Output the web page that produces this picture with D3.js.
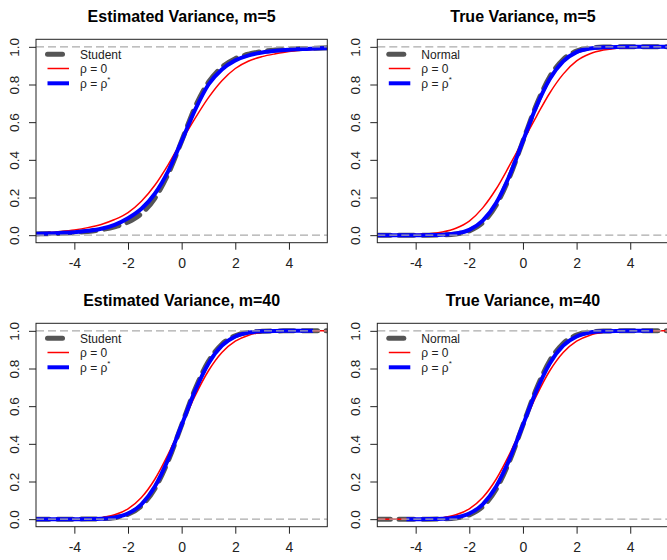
<!DOCTYPE html>
<html>
<head>
<meta charset="utf-8">
<script src="https://cdn.jsdelivr.net/npm/d3@7"></script>
<style>
  html, body { margin: 0; padding: 0; background: #fff; }
  svg { display: block; font-family: "Liberation Sans", Arial, Helvetica, sans-serif; }
</style>
</head>
<body>
<svg id="chart" width="667" height="560"></svg>
<script>
// ---------------- data ----------------
const xGrid = [-5.5,-5,-4.5,-4,-3.5,-3,-2.5,-2,-1.5,-1,-0.5,0,0.5,1,1.5,2,2.5,3,3.5,4,4.5,5,5.5];
const xTicks = [-4, -2, 0, 2, 4];
const yTicks = [0, 0.2, 0.4, 0.6, 0.8, 1.0];
const yTickLabels = ["0.0", "0.2", "0.4", "0.6", "0.8", "1.0"];
const titles = ["Estimated Variance, m=5", "True Variance, m=5", "Estimated Variance, m=40", "True Variance, m=40"];
const refNames = ["Student", "Normal", "Student", "Normal"];

// Panel 1: Estimated Variance, m=5
const refEst5     = [0.006,0.008,0.010,0.014,0.020,0.029,0.044,0.070,0.115,0.196,0.326,0.5,0.680,0.812,0.892,0.937,0.961,0.975,0.983,0.988,0.991,0.993,0.995];
const rho0Est5    = [0.011,0.014,0.020,0.028,0.040,0.057,0.083,0.120,0.180,0.265,0.375,0.5,0.620,0.730,0.820,0.885,0.925,0.948,0.963,0.975,0.982,0.987,0.990];
const rhoStarEst5 = [0.007,0.009,0.012,0.016,0.023,0.034,0.055,0.090,0.140,0.220,0.340,0.5,0.665,0.800,0.880,0.928,0.955,0.970,0.979,0.985,0.989,0.991,0.993];
// Panel 2: True Variance, m=5
const refTrue5     = [0,0,0,0,0.0002,0.0013,0.006,0.023,0.067,0.159,0.309,0.5,0.691,0.841,0.933,0.977,0.994,0.9987,0.9998,1,1,1,1];
const rho0True5    = [0,0,0.001,0.003,0.007,0.017,0.037,0.075,0.145,0.245,0.370,0.5,0.630,0.755,0.855,0.925,0.963,0.983,0.993,0.997,0.999,1,1];
const rhoStarTrue5 = [0,0,0,0,0.0004,0.002,0.009,0.028,0.077,0.171,0.317,0.5,0.683,0.829,0.923,0.972,0.991,0.998,0.9996,1,1,1,1];
// Panel 3: Estimated Variance, m=40
const refEst40     = [0,0,0,0.0001,0.0006,0.0024,0.008,0.026,0.071,0.162,0.310,0.5,0.690,0.838,0.929,0.974,0.992,0.9976,0.9994,0.9999,1,1,1];
const rho0Est40    = [0,0,0.0002,0.0007,0.0026,0.008,0.023,0.055,0.115,0.212,0.345,0.5,0.655,0.788,0.885,0.945,0.977,0.992,0.9974,0.9993,0.9998,1,1];
const rhoStarEst40 = [0,0,0,0,0.0005,0.0023,0.009,0.030,0.079,0.173,0.319,0.5,0.681,0.827,0.921,0.970,0.991,0.9977,0.9995,1,1,null,null];
// Panel 4: True Variance, m=40
const refTrue40     = [0,0,0,0,0.0002,0.0013,0.006,0.023,0.067,0.159,0.309,0.5,0.691,0.841,0.933,0.977,0.994,0.9987,0.9998,1,1,1,1];
const rho0True40    = [0,0,0.0002,0.0007,0.0026,0.008,0.023,0.055,0.115,0.212,0.345,0.5,0.655,0.788,0.885,0.945,0.977,0.992,0.9974,0.9993,0.9998,1,1];
const rhoStarTrue40 = [null,null,null,0,0.0005,0.0023,0.009,0.030,0.079,0.173,0.319,0.5,0.681,0.827,0.921,0.970,0.991,0.9977,0.9995,1,1,null,null];
// observed x-range of each rho* curve (empirical support)
const rhoStarSpan = [[-5.5, 5.5], [-5.5, 5.5], [-5.5, 4.9], [-4.35, 4.85]];

const panelRef = [refEst5, refTrue5, refEst40, refTrue40];
const panelRho0 = [rho0Est5, rho0True5, rho0Est40, rho0True40];
const panelRhoStar = [rhoStarEst5, rhoStarTrue5, rhoStarEst40, rhoStarTrue40];

// ---------------- layout ----------------
const svg = d3.select("#chart");
const origins = [[0, 0], [341.3, 0], [0, 284], [341.3, 284]];
const box = { left: 36, top: 39.3, width: 291.3, height: 203.4 };
const col = { ref: "#555555", rho0: "#ff0000", rhoStar: "#0000ff", guide: "#ababab" };
const refDash = "15,8.5";

function toPoints(arr) {
  const pts = [];
  xGrid.forEach((x, i) => { if (arr[i] != null) pts.push([x, arr[i]]); });
  return pts;
}

origins.forEach((o, p) => {
  const g = svg.append("g").attr("transform", `translate(${o[0]},${o[1]})`);
  const x = d3.scaleLinear().domain([-5.43, 5.43]).range([box.left, box.left + box.width]);
  const y = d3.scaleLinear().domain([-0.04, 1.04]).range([box.top + box.height, box.top]);

  const clipId = "clip" + p;
  g.append("clipPath").attr("id", clipId).append("rect")
    .attr("x", box.left).attr("y", box.top).attr("width", box.width).attr("height", box.height);

  const plot = g.append("g").attr("clip-path", `url(#${clipId})`);
  const line = d3.line().x(d => x(d[0])).y(d => y(d[1])).curve(d3.curveMonotoneX);

  // reference distribution (dashed grey)
  plot.append("path").datum(toPoints(panelRef[p]))
    .attr("d", line).attr("fill", "none").attr("stroke", col.ref)
    .attr("stroke-width", 5).attr("stroke-dasharray", refDash).attr("stroke-linecap", "round");
  // rho = 0 (red)
  plot.append("path").datum(toPoints(panelRho0[p]))
    .attr("d", line).attr("fill", "none").attr("stroke", col.rho0).attr("stroke-width", 1.5);
  // rho = rho* (blue), limited to observed span
  const span = rhoStarSpan[p];
  const sClip = "sclip" + p;
  g.append("clipPath").attr("id", sClip).append("rect")
    .attr("x", x(span[0])).attr("y", box.top - 10)
    .attr("width", x(span[1]) - x(span[0])).attr("height", box.height + 20);
  const pts = toPoints(panelRhoStar[p]);
  const first = pts[0], last = pts[pts.length - 1];
  const bluePts = [[Math.min(first[0], span[0]), first[1]], ...pts, [Math.max(last[0], span[1]), last[1]]];
  plot.append("g").attr("clip-path", `url(#${sClip})`)
    .append("path").datum(bluePts)
    .attr("d", line).attr("fill", "none").attr("stroke", col.rhoStar)
    .attr("stroke-width", 4).attr("stroke-linejoin", "round");

  // guide lines at 0 and 1
  [0, 1].forEach(v => {
    plot.append("line").attr("x1", box.left).attr("x2", box.left + box.width)
      .attr("y1", y(v)).attr("y2", y(v))
      .attr("stroke", col.guide).attr("stroke-width", 1.3).attr("stroke-dasharray", "8,4");
  });

  // box
  g.append("rect").attr("x", box.left).attr("y", box.top)
    .attr("width", box.width).attr("height", box.height)
    .attr("fill", "none").attr("stroke", "#222").attr("stroke-width", 1);

  // x axis
  const xa = g.append("g").attr("transform", `translate(0,${box.top + box.height})`)
    .call(d3.axisBottom(x).tickValues(xTicks).tickSize(7).tickSizeOuter(0).tickPadding(8).tickFormat(d3.format("d")));
  xa.select(".domain").remove();
  xa.selectAll(".tick line").attr("stroke", "#222");
  xa.selectAll(".tick text").attr("font-size", "14px").attr("fill", "#222")
    .attr("font-family", "Liberation Sans, Arial, sans-serif")
    .text(d => d < 0 ? "-" + Math.abs(d) : String(d));

  // y axis
  const ya = g.append("g").attr("transform", `translate(${box.left},0)`)
    .call(d3.axisLeft(y).tickValues(yTicks).tickSize(7).tickSizeOuter(0).tickFormat((d, i) => yTickLabels[i]));
  ya.select(".domain").remove();
  ya.selectAll(".tick line").attr("stroke", "#222");
  ya.selectAll(".tick text")
    .attr("font-size", "13.5px").attr("fill", "#222")
    .attr("font-family", "Liberation Sans, Arial, sans-serif")
    .attr("x", null).attr("dy", null)
    .attr("text-anchor", "middle")
    .attr("transform", "translate(-17.5,0) rotate(-90)");

  // title
  g.append("text").attr("x", box.left + box.width / 2).attr("y", box.top - 17.3)
    .attr("text-anchor", "middle").attr("font-weight", "bold").attr("font-size", "16px")
    .attr("fill", "#000").text(titles[p]);

  // legend
  const lg = g.append("g").attr("transform", `translate(${box.left},${box.top})`);
  const rows = [
    { y: 15, stroke: col.ref, w: 5, dash: refDash, cap: "round", label: refNames[p] },
    { y: 29.2, stroke: col.rho0, w: 1.5, dash: null, cap: "butt", label: "ρ = 0" },
    { y: 44, stroke: col.rhoStar, w: 4, dash: null, cap: "butt", label: "ρ = ρ", sup: "*" }
  ];
  rows.forEach(r => {
    lg.append("line").attr("x1", 11.5).attr("x2", 33).attr("y1", r.y).attr("y2", r.y)
      .attr("stroke", r.stroke).attr("stroke-width", r.w)
      .attr("stroke-dasharray", r.dash).attr("stroke-linecap", r.cap);
    const t = lg.append("text").attr("x", 44).attr("y", r.y + 4.3)
      .attr("font-size", "12px").attr("fill", "#222").text(r.label);
    if (r.sup) t.append("tspan").attr("dy", -6).attr("font-size", "8px").text(r.sup);
  });
});
</script>
</body>
</html>
